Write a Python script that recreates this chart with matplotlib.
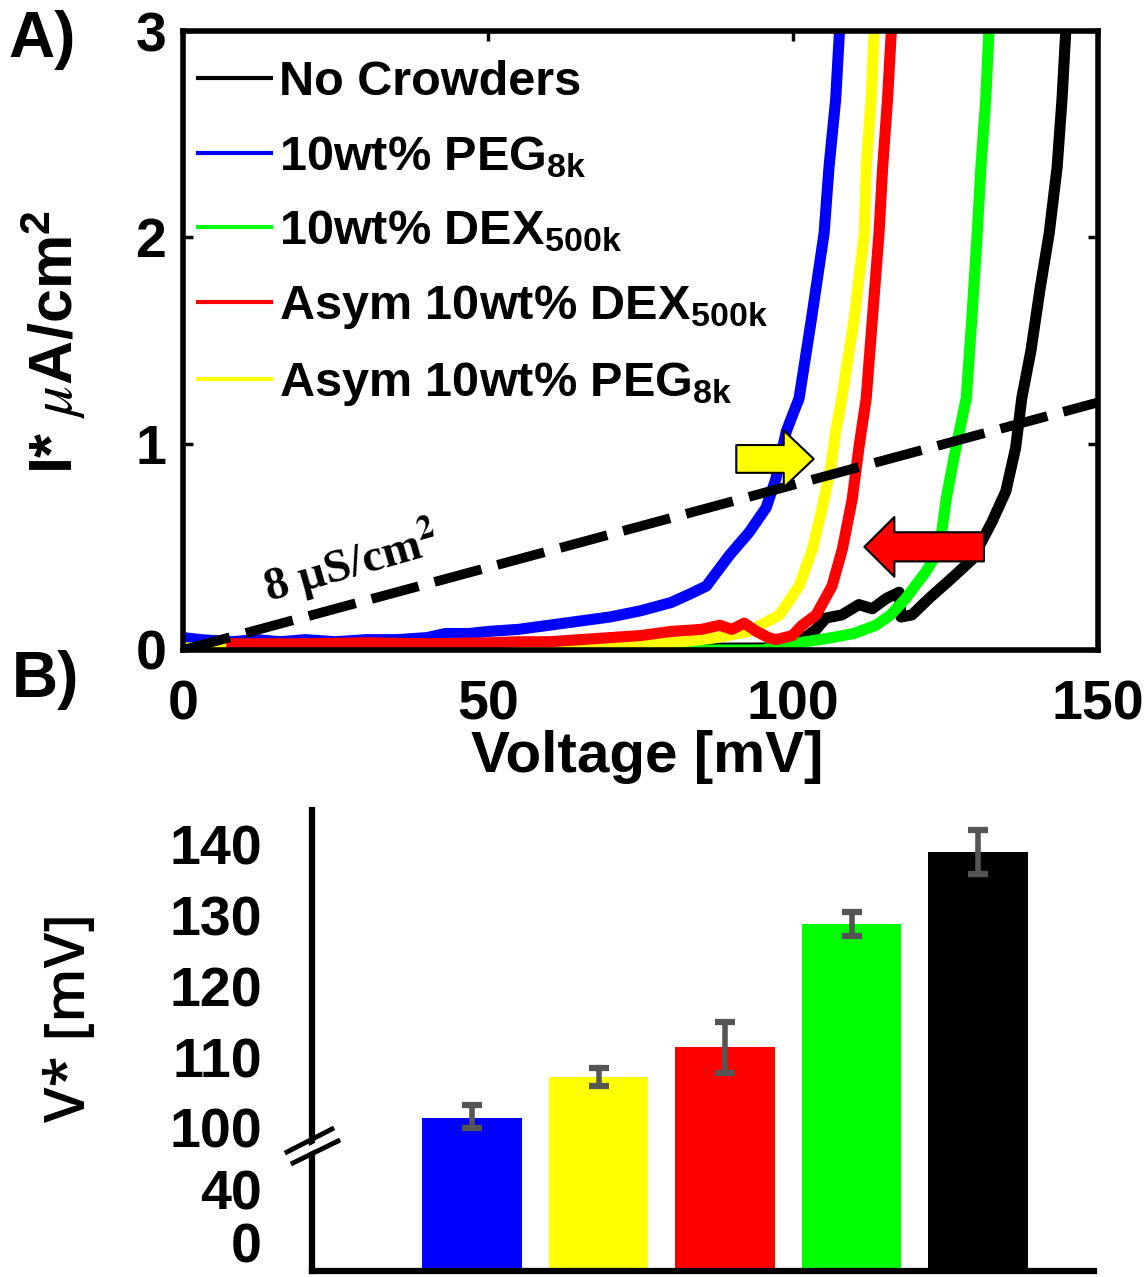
import numpy as np
import matplotlib.pyplot as plt
from matplotlib.lines import Line2D

plt.rcParams['font.family'] = 'Liberation Sans'
plt.rcParams['font.weight'] = 'bold'
plt.rcParams['axes.labelweight'] = 'bold'
plt.rcParams['mathtext.fontset'] = 'custom'
plt.rcParams['mathtext.rm'] = 'Liberation Sans:bold'
plt.rcParams['mathtext.bf'] = 'Liberation Sans:bold'
plt.rcParams['mathtext.it'] = 'STIXGeneral:style=italic:weight=normal'
plt.rcParams['mathtext.default'] = 'rm'

# --- panel A: I-V curves ---
v_black = [0, 50, 98, 101, 103.8, 105.4, 108, 110.8, 113, 115.3, 117.4, 117.7, 119.5,
           122.3, 126.1, 129.4, 132.6, 134.9, 136.5, 137.5, 139, 140.5, 142, 143.3, 144.1, 144.7, 145]
i_black = [0.0, 0.005, 0.01, 0.04, 0.1, 0.155, 0.17, 0.22, 0.2, 0.25, 0.28, 0.16, 0.17,
           0.25, 0.35, 0.44, 0.62, 0.77, 0.98, 1.22, 1.45, 1.75, 2.02, 2.34, 2.67, 2.99, 3.1]

v_blue = [0, 3, 8, 12, 16, 20, 25, 30, 35, 40, 43, 47, 50, 55, 60, 65, 70, 75, 80, 83,
          85.8, 89.6, 92.8, 95.6, 97.2, 98.9, 101, 103, 105.1, 105.9, 107, 107.6, 107.8]
i_blue = [0.06, 0.05, 0.04, 0.05, 0.04, 0.05, 0.04, 0.05, 0.05, 0.06, 0.08, 0.08, 0.09, 0.1,
          0.12, 0.14, 0.16, 0.19, 0.23, 0.27, 0.31, 0.46, 0.57, 0.69, 0.83, 1.06, 1.22, 1.6,
          2.02, 2.34, 2.67, 2.99, 3.1]

v_green = [0, 95, 99.9, 106.4, 110, 113.6, 116, 118.5, 120, 121.8, 124, 125.1, 126.7,
           128.4, 129.3, 130.2, 130.8, 131.6, 132.1, 132.3]
i_green = [0.0, 0.0, 0.03, 0.06, 0.08, 0.12, 0.17, 0.25, 0.31, 0.38, 0.49, 0.73, 0.98,
           1.22, 1.6, 2.02, 2.34, 2.67, 2.99, 3.1]

v_yellow = [0, 20, 40, 55, 65, 75, 82, 87.4, 92.8, 97.8, 101, 103.2, 104.8, 106.2, 107,
            108, 110, 111.7, 112, 112.8, 113.3, 113.5]
i_yellow = [0.01, 0.01, 0.01, 0.015, 0.02, 0.03, 0.04, 0.06, 0.09, 0.17, 0.31, 0.49, 0.69,
            0.89, 1.06, 1.22, 1.6, 2.02, 2.34, 2.67, 2.99, 3.1]

v_red = [8, 20, 30, 40, 50, 55, 60, 65, 70, 75, 80, 85, 88, 90, 92, 94, 96, 97.2, 99.9,
         101.5, 103.8, 106.4, 108.1, 109.7, 110.8, 112, 113, 114.1, 114.7, 115.5, 116.1, 116.3]
i_red = [0.03, 0.03, 0.035, 0.03, 0.035, 0.04, 0.04, 0.05, 0.06, 0.07, 0.09, 0.1, 0.12,
         0.1, 0.13, 0.09, 0.06, 0.05, 0.07, 0.12, 0.17, 0.31, 0.49, 0.73, 0.98, 1.22, 1.6,
         2.02, 2.34, 2.67, 2.99, 3.1]

labels = ['No Crowders', r'10wt% PEG$_{8k}$', r'10wt% DEX$_{500k}$',
          r'Asym 10wt% DEX$_{500k}$', r'Asym 10wt% PEG$_{8k}$']
colors = ['#000000', '#0000FF', '#00FF00', '#FF0000', '#FFFF00']
conductance = 8e-3  # uA/cm^2 per mV  (8 uS/cm^2)

# --- panel B: threshold voltages ---
groups = ['PEG', 'Asym PEG', 'Asym DEX', 'DEX', 'No Crowders']
vstar = [101.4, 107.2, 111.4, 128.8, 139.0]
vstar_err = [1.9, 1.3, 3.6, 1.7, 3.1]
bar_colors = ['#0000FF', '#FFFF00', '#FF0000', '#00FF00', '#000000']

fig = plt.figure(figsize=(11.47, 12.77), dpi=100)

# ---------------- A ----------------
ax = fig.add_axes([183/1147, 1-650/1277, 915/1147, 619/1277])
ax.plot(v_black, i_black, color=colors[0], lw=8)
ax.plot(v_blue, i_blue, color=colors[1], lw=8)
ax.plot(v_green, i_green, color=colors[2], lw=8)
ax.plot(v_yellow, i_yellow, color=colors[4], lw=8)
ax.plot(v_red, i_red, color=colors[3], lw=8)

vfit = np.array([0, 150])
ax.plot(vfit, conductance * vfit, color='black', lw=7, dashes=(5, 1.7))

ax.set_xlim(0, 150)
ax.set_ylim(0, 3)
ax.set_xticks([0, 50, 100, 150])
ax.set_yticks([0, 1, 2, 3])
ax.tick_params(direction='in', length=7, width=2.5, top=True, right=True,
               labelsize=40)
ax.tick_params(axis='x', pad=21)
ax.tick_params(axis='y', pad=12)
for s in ax.spines.values():
    s.set_linewidth(4)

ax.set_xlabel('Voltage [mV]', fontsize=42)
ax.xaxis.set_label_coords(0.507, -0.13)
ax.set_ylabel(r'I* $\mathit{\mu}$A/cm$^{2}$', fontsize=44)
ax.yaxis.set_label_coords(-0.104, 0.497)

handles = [Line2D([], [], color=c, lw=3) for c in colors]
ax.legend(handles, labels, loc='upper left', bbox_to_anchor=(0, 0.976),
          frameon=False, fontsize=35, handlelength=1.52, handletextpad=0.16,
          labelspacing=0.59, borderpad=0.3, borderaxespad=0)

ax.text(27.6, 0.42, '8 μS/cm$^{\\mathbf{2}}$', fontsize=34, family='Liberation Serif',
        math_fontfamily='stix', rotation=16, ha='center', va='center',
        rotation_mode='anchor')

# arrows
ax.annotate('', xy=(103.4, 0.926), xytext=(90.7, 0.926),
            arrowprops=dict(arrowstyle='simple,head_length=21.6,head_width=41,tail_width=20',
                            mutation_scale=1, fc='#FFFF00', ec='black', lw=1.5,
                            shrinkA=0, shrinkB=0))
ax.annotate('', xy=(111.7, 0.5), xytext=(131.3, 0.5),
            arrowprops=dict(arrowstyle='simple,head_length=21.6,head_width=43,tail_width=21',
                            mutation_scale=1, fc='#FF0000', ec='black', lw=1.5,
                            shrinkA=0, shrinkB=0))

fig.text(8/1147, 1-10/1277, 'A)', fontsize=46, va='top', ha='left')
fig.text(12/1147, 1-650/1277, 'B)', fontsize=46, va='top', ha='left')

# ---------------- B ----------------
pos_v = [-10, 0, 40, 100, 200]
pos_p = [0, 28, 81, 143, 850.5]


def fwd(v):
    return np.interp(v, pos_v, pos_p)


def inv(p):
    return np.interp(p, pos_p, pos_v)


ax2 = fig.add_axes([312/1147, 1-1271/1277, 782/1147, 461/1277])
ax2.set_yscale('function', functions=(fwd, inv))
floor = -10
x = np.arange(len(groups))
ax2.bar(x, np.array(vstar) - floor, bottom=floor, width=0.79, color=bar_colors,
        yerr=vstar_err, error_kw=dict(ecolor='#555555', elinewidth=4, capsize=7,
                                      capthick=4.5))
ax2.set_ylim(floor, 144.9)
ax2.set_xlim(-1.265, 4.917)
ax2.set_yticks([0, 40, 100, 110, 120, 130, 140])
ax2.set_yticklabels(['0', '40', '100', '110', '120', '130', '140'])
ax2.yaxis.set_minor_locator(plt.NullLocator())
ax2.set_xticks([])
ax2.tick_params(axis='y', length=0, pad=36, labelsize=40)
ax2.spines['top'].set_visible(False)
ax2.spines['right'].set_visible(False)
ax2.spines['left'].set_linewidth(4.5)
ax2.spines['bottom'].set_linewidth(4.5)
ax2.set_ylabel('V* [mV]', fontsize=41, family='Open Sans', fontweight='semibold')
ax2.yaxis.set_label_coords(-0.272, 0.55)

# axis break marks
px = lambda x_, y_: (x_/1147, 1 - y_/1277)
gap = plt.Polygon([px(289, 1157), px(334, 1134), px(336, 1138), px(291, 1161)],
                  closed=True, color='white', transform=fig.transFigure, zorder=5)
fig.patches.append(gap)
for (x0, y0, x1, y1) in [(287, 1152, 332, 1129), (293, 1163, 338, 1141)]:
    p0, p1 = px(x0, y0), px(x1, y1)
    fig.add_artist(Line2D([p0[0], p1[0]], [p0[1], p1[1]], color='black', lw=3.5,
                          transform=fig.transFigure, zorder=6))

fig.savefig('out.png', dpi=100)
